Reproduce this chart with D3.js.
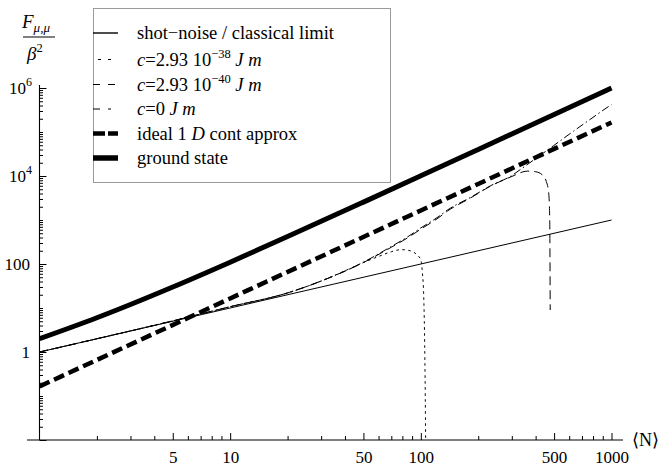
<!DOCTYPE html>
<html>
<head>
<meta charset="utf-8">
<script src="https://cdn.jsdelivr.net/npm/d3@7"></script>
<style>
  html, body { margin: 0; padding: 0; background: #fff; }
  svg { display: block; font-family: "Liberation Serif", "Times New Roman", serif; }
</style>
</head>
<body>
<svg id="chart" width="661" height="467"></svg>
<script>
// Fisher information F_{μ,μ}/β² versus mean atom number ⟨N⟩ (log–log)

// shot-noise / classical limit
const shotN = [1, 1000];
const shotF = [1, 1000];

// ground state
const groundN = [1, 2, 3, 5, 10, 20, 50, 100, 200, 500, 1000];
const groundF = [2, 6, 12, 30, 110, 420, 2550, 10100, 40200, 250500, 1001000];

// ideal 1D continuum approximation
const idealN = [1, 10, 100, 1000];
const idealF = [0.165, 16.5, 1650, 165000];

// c = 0 J m
const c0N = [1, 2, 5, 10, 20, 30, 50, 70, 85, 100, 123, 138, 183, 232, 296, 340, 390, 425, 497, 633, 800, 965, 1000];
const c0F = [1, 2, 5.1, 10.7, 22, 41, 110, 250, 410, 660, 1170, 1690, 3300, 6000, 9900, 15000, 23000, 30000, 49000, 105000, 215000, 380000, 420000];

// c = 2.93e-40 J m
const c40N = [1, 2, 5, 10, 20, 30, 50, 70, 85, 100, 123, 138, 183, 232, 296, 363, 400, 435, 455, 468, 474, 477];
const c40F = [1, 2, 5.1, 10.7, 22, 41, 108, 240, 390, 620, 1100, 1600, 3200, 5900, 9500, 12900, 12500, 10500, 7500, 4300, 1200, 9];

// c = 2.93e-38 J m
const c38N = [1, 2, 5, 10, 20, 30, 40, 50, 60, 70, 79, 88, 95, 100, 102, 103.5, 104.5, 105.5, 106];
const c38F = [1, 2, 5.1, 10.7, 22, 41, 70, 108, 148, 190, 212, 200, 165, 123, 60, 20, 3, 0.1, 0.01];

// axis ticks
const xTickValues = [5, 10, 50, 100, 500, 1000];
const xTickLabels = ["5", "10", "50", "100", "500", "1000"];
const yTickValues = [1e6, 1e4, 100, 1, 0.01];
const yTickLabels = [["10", "6"], ["10", "4"], ["100", ""], ["1", ""], ["", ""]];

// legend text, split into roman / italic / superscript pieces
const legendLabels = [
  [["shot\u2212noise / classical limit", ""]],
  [["c", "i"], ["=2.93 10", ""], ["\u221238", "s"], [" ", ""], ["J m", "i"]],
  [["c", "i"], ["=2.93 10", ""], ["\u221240", "s"], [" ", ""], ["J m", "i"]],
  [["c", "i"], ["=0 ", ""], ["J m", "i"]],
  [["ideal 1 ", ""], ["D", "i"], [" cont approx", ""]],
  [["ground state", ""]]
];

const svg = d3.select("#chart");

const x = d3.scaleLog().domain([1, 1000]).range([39.5, 611.5]);
const y = d3.scaleLog().domain([0.01, 1e6]).range([440, 88]);

// line styles for each curve
const styles = {
  shot:   { w: 1.0, dash: null },
  c38:    { w: 1.0, dash: "2.5,3.5" },
  c40:    { w: 1.0, dash: "9,5" },
  c0:     { w: 1.0, dash: "8,3,1.5,3" },
  ideal:  { w: 4.5, dash: "11,5" },
  ground: { w: 5.0, dash: null }
};

const curves = [
  { key: "shot",   N: shotN,   F: shotF },
  { key: "c38",    N: c38N,    F: c38F },
  { key: "c40",    N: c40N,    F: c40F },
  { key: "c0",     N: c0N,     F: c0F },
  { key: "ideal",  N: idealN,  F: idealF },
  { key: "ground", N: groundN, F: groundF }
];

// clip region for the plotted curves
svg.append("defs").append("clipPath").attr("id", "plotclip")
  .append("rect").attr("x", 39.5).attr("y", 80).attr("width", 590).attr("height", 360);

// ---- axes ----
const axisG = svg.append("g").attr("stroke-width", 1);

// minor tick positions
const minorX = [];
for (let k = 0; k < 3; k++) for (let m = 2; m <= 9; m++) {
  const v = m * Math.pow(10, k);
  if (v !== 5 && v !== 50 && v !== 500) minorX.push(v);
}
const minorY = [];
for (let k = -2; k < 6; k++) for (let m = 1; m <= 9; m++) {
  const v = m * Math.pow(10, k);
  if (!yTickValues.some(t => Math.abs(t - v) / v < 1e-9)) minorY.push(v);
}

const xAxis = d3.axisBottom(x).tickValues(xTickValues)
  .tickFormat((d, i) => xTickLabels[i]).tickSizeInner(-7).tickSizeOuter(0).tickPadding(10.5);
const xMinor = d3.axisBottom(x).tickValues(minorX).tickFormat("").tickSizeInner(-4).tickSizeOuter(0);

const gx = axisG.append("g").attr("transform", "translate(0,440)").call(xAxis);
const gxm = axisG.append("g").attr("transform", "translate(0,440)").call(xMinor);
[gx, gxm].forEach(g => {
  g.select(".domain").remove();
  g.selectAll("line").attr("stroke", "#000");
});
gx.selectAll("text").attr("fill", "#000").attr("font-size", 17)
  .attr("font-family", "'Liberation Serif', serif");

const yAxis = d3.axisLeft(y).tickValues(yTickValues).tickFormat("")
  .tickSizeInner(-7).tickSizeOuter(0);
const yMinor = d3.axisLeft(y).tickValues(minorY).tickFormat("").tickSizeInner(-3.5).tickSizeOuter(0);
const gy = axisG.append("g").attr("transform", "translate(39.5,0)").call(yAxis);
const gym = axisG.append("g").attr("transform", "translate(39.5,0)").call(yMinor);
[gy, gym].forEach(g => {
  g.select(".domain").remove();
  g.selectAll("line").attr("stroke", "#000");
});

// y tick labels with superscript exponents
yTickValues.forEach((v, i) => {
  const [base, sup] = yTickLabels[i];
  if (!base) return;
  const t = axisG.append("text")
    .attr("x", sup ? 32 : 30).attr("y", y(v) + 5.8)
    .attr("text-anchor", "end").attr("font-size", 17).attr("fill", "#000");
  t.append("tspan").text(base);
  if (sup) t.append("tspan").attr("dy", -7.5).attr("font-size", 12).text(sup);
});

// axis lines
axisG.append("line").attr("x1", 27).attr("x2", 623).attr("y1", 440).attr("y2", 440)
  .attr("stroke", "#000").attr("stroke-width", 1.1);
axisG.append("line").attr("x1", 39.5).attr("x2", 39.5).attr("y1", 440).attr("y2", 85)
  .attr("stroke", "#000").attr("stroke-width", 1.1);

// axis titles
svg.append("text").attr("x", 632).attr("y", 446).attr("font-size", 18).attr("fill", "#000")
  .text("\u27E8N\u27E9");

const yt = svg.append("g");
const ytop = yt.append("text").attr("x", 22).attr("y", 28).attr("font-size", 19).attr("fill", "#000");
ytop.append("tspan").attr("font-style", "italic").text("F");
ytop.append("tspan").attr("dy", 4).attr("font-size", 13).attr("font-style", "italic").text("\u03BC,\u03BC");
yt.append("line").attr("x1", 23).attr("x2", 55).attr("y1", 37).attr("y2", 37)
  .attr("stroke", "#000").attr("stroke-width", 1);
const ybot = yt.append("text").attr("x", 27).attr("y", 60).attr("font-size", 19).attr("fill", "#000");
ybot.append("tspan").attr("font-style", "italic").text("\u03B2");
ybot.append("tspan").attr("dy", -8).attr("font-size", 12.5).text("2");

// ---- curves ----
const line = d3.line()
  .x(d => x(d[0]))
  .y(d => y(d[1]))
  .curve(d3.curveMonotoneX);

const plot = svg.append("g").attr("clip-path", "url(#plotclip)");
curves.forEach(c => {
  const st = styles[c.key];
  plot.append("path")
    .datum(c.N.map((n, i) => [n, c.F[i]]))
    .attr("d", line)
    .attr("fill", "none")
    .attr("stroke", "#000")
    .attr("stroke-width", st.w)
    .attr("stroke-dasharray", st.dash)
    .attr("stroke-linejoin", "round");
});

// ---- legend ----
const lg = svg.append("g");
lg.append("rect").attr("x", 93.5).attr("y", 8.5).attr("width", 297).attr("height", 174)
  .attr("fill", "#fff").attr("stroke", "#9a9a9a").attr("stroke-width", 1);

const legendSamples = [
  { x1: 93, x2: 118, w: 1.4, dash: null },
  { x1: 98, x2: 113, w: 1.0, dash: "3,7" },
  { x1: 93, x2: 116, w: 1.0, dash: "7,8" },
  { x1: 93, x2: 112, w: 1.0, dash: "7,8,3,20" },
  { x1: 93, x2: 118, w: 4.5, dash: "12,3" },
  { x1: 93, x2: 118, w: 5.5, dash: null }
];
const rowY = [33, 59.5, 84.5, 109, 133.5, 158];

legendLabels.forEach((parts, i) => {
  const s = legendSamples[i];
  lg.append("line").attr("x1", s.x1).attr("x2", s.x2).attr("y1", rowY[i]).attr("y2", rowY[i])
    .attr("stroke", "#000").attr("stroke-width", s.w).attr("stroke-dasharray", s.dash);
  const t = lg.append("text").attr("x", 137).attr("y", rowY[i] + 6)
    .attr("font-size", 18.5).attr("fill", "#000");
  let raised = false;
  parts.forEach(([txt, kind]) => {
    const ts = t.append("tspan").text(txt);
    if (kind === "i") ts.attr("font-style", "italic");
    if (kind === "s") {
      ts.attr("dy", -7.5).attr("font-size", 12.5);
      raised = true;
    } else if (raised) {
      ts.attr("dy", 7.5);
      raised = false;
    }
  });
});
</script>
</body>
</html>
